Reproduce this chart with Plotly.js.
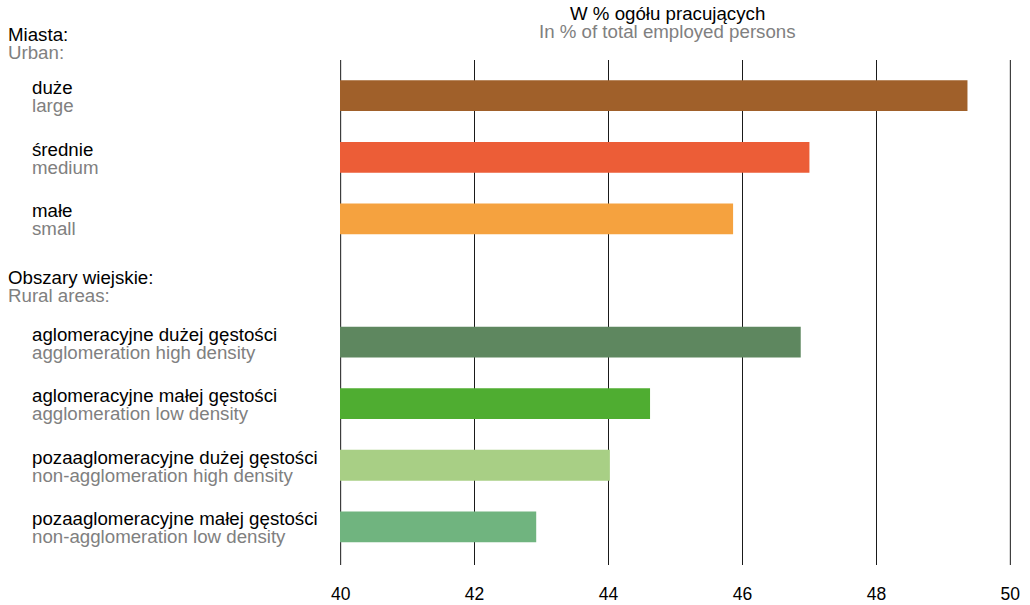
<!DOCTYPE html>
<html><head><meta charset="utf-8">
<script src="https://cdn.plot.ly/plotly-3.0.1.min.js"></script>
<style>html,body{margin:0;padding:0;background:#fff;}#chart{width:1030px;height:605px;}</style>
</head><body><div id="chart"></div>
<script>
// ---- data ----
var labelsPl = ["duże", "średnie", "małe", "", "aglomeracyjne dużej gęstości", "aglomeracyjne małej gęstości", "pozaaglomeracyjne dużej gęstości", "pozaaglomeracyjne małej gęstości"];
var labelsEn = ["large", "medium", "small", "", "agglomeration high density", "agglomeration low density", "non-agglomeration high density", "non-agglomeration low density"];
var values = [49.36, 47.0, 45.86, null, 46.87, 44.62, 44.02, 42.92];
var groupPl = ["Miasta:", "Obszary wiejskie:"];
var groupEn = ["Urban:", "Rural areas:"];
var titlePl = "W % ogółu pracujących";
var titleEn = "In % of total employed persons";
var tickVals = [40, 42, 44, 46, 48, 50];

// ---- styles ----
var barColors = ["#A0602A", "#EC5D37", "#F5A23F", "#ffffff", "#5E875F", "#4FAD31", "#A8CF85", "#70B47F"];
var GRAY = "#808080";
var GRID = "#1a1a1a";
var FONT = "Liberation Sans, Arial, sans-serif";
var FS = 18.7;

var cats = labelsPl.map(function(l){ return l === "" ? " " : l; });

var trace = {
  type: "bar", orientation: "h",
  y: cats, x: values,
  width: 0.5,
  marker: {color: barColors, line: {width: 0}},
  hoverinfo: "x+y", cliponaxis: true
};

var annotations = [];
var xLeftSub = (30 - 340) / 671;
var xLeftHead = (6 - 340) / 671;
labelsPl.forEach(function(l, i){
  if (l === "") return;
  annotations.push({xref: "paper", yref: "y", x: xLeftSub, y: cats[i], xanchor: "left", yanchor: "middle",
    yshift: 8, text: l, showarrow: false, font: {family: FONT, size: FS, color: "#000"}});
  annotations.push({xref: "paper", yref: "y", x: xLeftSub, y: cats[i], xanchor: "left", yanchor: "middle",
    yshift: -10, text: labelsEn[i], showarrow: false, font: {family: FONT, size: FS, color: GRAY}});
});
// group headers
annotations.push({xref: "paper", yref: "paper", x: xLeftHead, y: 1 + (60 - 35) / 505, xanchor: "left", yanchor: "middle",
  text: groupPl[0], showarrow: false, font: {family: FONT, size: FS, color: "#000"}});
annotations.push({xref: "paper", yref: "paper", x: xLeftHead, y: 1 + (60 - 53) / 505, xanchor: "left", yanchor: "middle",
  text: groupEn[0], showarrow: false, font: {family: FONT, size: FS, color: GRAY}});
annotations.push({xref: "paper", yref: "y", x: xLeftHead, y: " ", xanchor: "left", yanchor: "middle",
  yshift: 3, text: groupPl[1], showarrow: false, font: {family: FONT, size: FS, color: "#000"}});
annotations.push({xref: "paper", yref: "y", x: xLeftHead, y: " ", xanchor: "left", yanchor: "middle",
  yshift: -15, text: groupEn[1], showarrow: false, font: {family: FONT, size: FS, color: GRAY}});
// title
annotations.push({xref: "paper", yref: "paper", x: (667 - 340) / 671, y: 1 + (60 - 14) / 505, xanchor: "center", yanchor: "middle",
  text: titlePl, showarrow: false, font: {family: FONT, size: FS, color: "#000"}});
annotations.push({xref: "paper", yref: "paper", x: (667 - 340) / 671, y: 1 + (60 - 32) / 505, xanchor: "center", yanchor: "middle",
  text: titleEn, showarrow: false, font: {family: FONT, size: FS, color: GRAY}});

// edge grid lines (plotly omits grid lines on the plot edges)
var shapes = [tickVals[0], tickVals[tickVals.length - 1]].map(function(v){
  return {type: "line", xref: "x", yref: "paper", x0: v, x1: v, y0: 0, y1: 1, layer: "below",
    line: {color: GRID, width: 1}};
});

var layout = {
  width: 1030, height: 605,
  margin: {l: 340, r: 19, t: 60, b: 40, pad: 0},
  paper_bgcolor: "#fff", plot_bgcolor: "#fff",
  showlegend: false,
  xaxis: {
    range: [39.99, 50.01], tickvals: tickVals,
    showgrid: true, gridcolor: GRID, gridwidth: 1,
    zeroline: false, showline: false, ticks: "",
    ticklabelstandoff: 16,
    tickfont: {family: FONT, size: 17.5, color: "#000"},
    fixedrange: true
  },
  yaxis: {
    type: "category", categoryorder: "array", categoryarray: cats,
    range: [7.62, -0.58], showticklabels: false, showgrid: false, zeroline: false, showline: false, ticks: "",
    fixedrange: true
  },
  shapes: shapes,
  annotations: annotations
};

Plotly.newPlot("chart", [trace], layout, {displayModeBar: false, staticPlot: true});
</script>
</body></html>
